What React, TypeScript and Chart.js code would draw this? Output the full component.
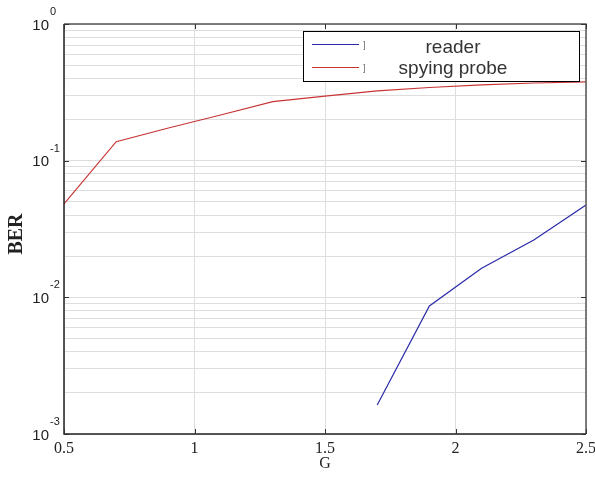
import React, { useEffect, useRef } from "react";
import { Chart, registerables } from "chart.js";

Chart.register(...registerables);

// ---- data ----
const probeG = [0.5, 0.7, 0.9, 1.1, 1.3, 1.5, 1.7, 1.9, 2.1, 2.3, 2.5];
const probeBER = [0.0482, 0.1377, 0.1734, 0.216, 0.27, 0.297, 0.3236, 0.343, 0.358, 0.37, 0.3767];
const readerG = [1.7, 1.9, 2.1, 2.3, 2.5];
const readerBER = [0.00163, 0.00865, 0.0163, 0.0263, 0.0474];
const xTickValues = [0.5, 1, 1.5, 2, 2.5];
const xTickLabels = ["0.5", "1", "1.5", "2", "2.5"];
const yDecades = [-3, -2, -1, 0];
const yMinorMultipliers = [1, 2, 3, 4, 5, 6, 7, 8, 9];
const seriesLabels = ["reader", "spying probe"];
const xTitle = "G";
const yTitle = "BER";

const yGridValues: number[] = [];
yDecades.forEach((d) => {
  if (d === 0) {
    yGridValues.push(1);
  } else {
    yMinorMultipliers.forEach((m) => yGridValues.push(m * Math.pow(10, d)));
  }
});

export default function App() {
  const ref = useRef<HTMLCanvasElement>(null);
  useEffect(() => {
    document.body.style.margin = "0";
    const canvas = ref.current!;
    const overlay = {
      id: "overlay",
      afterDatasetsDraw(chart: any) {
        const ctx = chart.ctx;
        const a = chart.chartArea;
        const xs = chart.scales.x;
        const ys = chart.scales.y;
        ctx.save();
        // border
        ctx.lineWidth = 1.5;
        ctx.strokeStyle = "#555";
        ctx.beginPath();
        ctx.moveTo(a.left, a.top);
        ctx.lineTo(a.right, a.top);
        ctx.lineTo(a.right, a.bottom);
        ctx.stroke();
        ctx.strokeStyle = "#222";
        ctx.beginPath();
        ctx.moveTo(a.left, a.top);
        ctx.lineTo(a.left, a.bottom);
        ctx.lineTo(a.right, a.bottom);
        ctx.stroke();
        // tick marks
        ctx.lineWidth = 1;
        ctx.strokeStyle = "#333";
        ctx.beginPath();
        xTickValues.forEach((v) => {
          const px = Math.round(xs.getPixelForValue(v)) + 0.5;
          ctx.moveTo(px, a.bottom);
          ctx.lineTo(px, a.bottom - 5);
          ctx.moveTo(px, a.top);
          ctx.lineTo(px, a.top + 5);
        });
        yDecades.forEach((d) => {
          const py = Math.round(ys.getPixelForValue(Math.pow(10, d))) + 0.5;
          ctx.moveTo(a.left, py);
          ctx.lineTo(a.left + 5, py);
          ctx.moveTo(a.right, py);
          ctx.lineTo(a.right - 5, py);
        });
        ctx.stroke();
        // y labels
        ctx.fillStyle = "#222";
        yDecades.forEach((d) => {
          const py = ys.getPixelForValue(Math.pow(10, d));
          ctx.font = '15px "Liberation Sans", Arial, sans-serif';
          ctx.textAlign = "right";
          ctx.textBaseline = "alphabetic";
          ctx.fillText("10", 49, py + 5.5);
          ctx.font = '11px "Liberation Sans", Arial, sans-serif';
          ctx.textAlign = "left";
          ctx.fillText(String(d), 50, py - 9);
        });
        // x labels
        ctx.font = '16px "Liberation Serif", "Times New Roman", serif';
        ctx.textAlign = "center";
        xTickValues.forEach((v, i) => {
          ctx.fillText(xTickLabels[i], xs.getPixelForValue(v), 453);
        });
        // axis titles
        ctx.fillText(xTitle, (a.left + a.right) / 2, 468);
        ctx.save();
        ctx.translate(21.5, (a.top + a.bottom) / 2 + 5);
        ctx.rotate(-Math.PI / 2);
        ctx.font = 'bold 20px "Liberation Serif", "Times New Roman", serif';
        ctx.textAlign = "center";
        ctx.fillText(yTitle, 0, 0);
        ctx.restore();
        // legend
        const bx = 303.5, by = 31.5, bw = 276, bh = 50;
        ctx.fillStyle = "#fff";
        ctx.fillRect(bx, by, bw, bh);
        ctx.strokeStyle = "#000";
        ctx.lineWidth = 1;
        ctx.strokeRect(bx, by, bw, bh);
        const rows = [44, 67];
        const baselines = [53, 74];
        chart.data.datasets.forEach((ds: any, i: number) => {
          const ly = rows[i];
          ctx.strokeStyle = ds.borderColor;
          ctx.lineWidth = 1.2;
          ctx.beginPath();
          ctx.moveTo(312, ly + 0.5);
          ctx.lineTo(359, ly + 0.5);
          ctx.stroke();
          ctx.fillStyle = "#666";
          ctx.font = '9px "Liberation Sans", Arial, sans-serif';
          ctx.textAlign = "left";
          ctx.fillText("]", 363, ly + 4);
          ctx.fillStyle = "#333";
          ctx.font = '19px "Liberation Sans", Arial, sans-serif';
          ctx.textAlign = "center";
          ctx.fillText(ds.label, 453, baselines[i]);
        });
        ctx.restore();
      },
    };
    const chart = new Chart(canvas, {
      type: "line",
      data: {
        datasets: [
          {
            label: seriesLabels[0],
            data: readerG.map((g, i) => ({ x: g, y: readerBER[i] })),
            borderColor: "#2a2aa8",
            borderWidth: 1.2,
            pointRadius: 0,
            fill: false,
            tension: 0,
          },
          {
            label: seriesLabels[1],
            data: probeG.map((g, i) => ({ x: g, y: probeBER[i] })),
            borderColor: "#c83434",
            borderWidth: 1.2,
            pointRadius: 0,
            fill: false,
            tension: 0,
          },
        ],
      },
      options: {
        animation: false,
        responsive: false,
        devicePixelRatio: 1,
        layout: { padding: { top: 24, right: 9, left: 0, bottom: 0 } },
        plugins: { legend: { display: false }, tooltip: { enabled: false } },
        scales: {
          x: {
            type: "linear",
            min: 0.5,
            max: 2.5,
            afterBuildTicks: (s: any) => {
              s.ticks = xTickValues.map((v) => ({ value: v }));
            },
            afterFit: (s: any) => {
              s.height = 49;
            },
            ticks: { display: false },
            grid: { color: "#dedede", lineWidth: 1, drawTicks: false },
            border: { display: false },
          },
          y: {
            type: "logarithmic",
            min: 0.001,
            max: 1,
            afterBuildTicks: (s: any) => {
              s.ticks = yGridValues.map((v) => ({ value: v }));
            },
            afterFit: (s: any) => {
              s.width = 64;
            },
            ticks: { display: false },
            grid: { color: "#dedede", lineWidth: 1, drawTicks: false },
            border: { display: false },
          },
        },
      },
      plugins: [overlay],
    } as any);
    return () => chart.destroy();
  }, []);
  return (
    <div style={{ width: 595, height: 483 }}>
      <canvas ref={ref} width={595} height={483} style={{ display: "block" }} />
    </div>
  );
}
